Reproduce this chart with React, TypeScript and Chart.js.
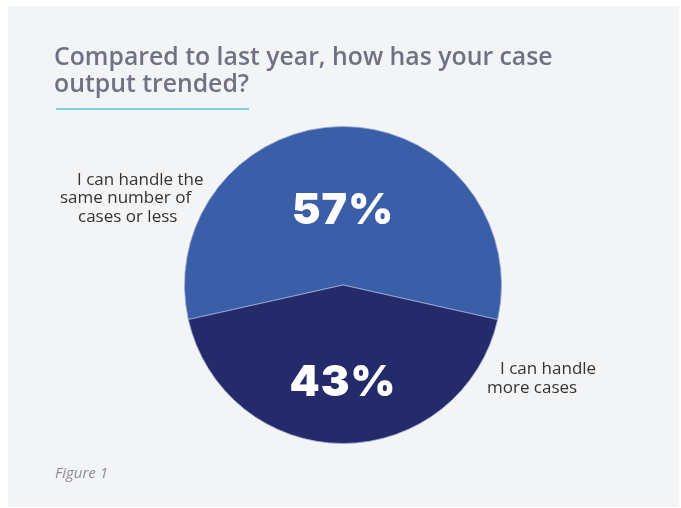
import React, { useEffect, useRef } from "react";
import { Chart, registerables } from "chart.js";

Chart.register(...registerables);

const categories = ["I can handle the same number of cases or less", "I can handle more cases"];
const values = [57, 43];
const percentLabels = ["57%", "43%"];
const sliceColors = ["#3a5ea8", "#252a6b"];
const leftLabelLines = ["I can handle the", "same number of", "cases or less"];
const rightLabelLines = ["I can handle", "more cases"];

export default function App() {
  const ref = useRef<HTMLCanvasElement | null>(null);

  useEffect(() => {
    if (!ref.current) return;
    const total = values.reduce((a, b) => a + b, 0);
    const firstDeg = (values[0] / total) * 360;
    const chart = new Chart(ref.current, {
      type: "pie",
      data: {
        labels: categories,
        datasets: [
          {
            data: values,
            backgroundColor: sliceColors,
            borderColor: "rgba(160,175,215,0.8)",
            borderWidth: 1,
          },
        ],
      },
      options: {
        animation: false,
        responsive: false,
        rotation: -firstDeg / 2,
        layout: { padding: { top: 126, bottom: 64, left: 184, right: 179 } },
        plugins: { legend: { display: false }, tooltip: { enabled: false } },
      },
    });
    return () => chart.destroy();
  }, []);

  const lineStyle: React.CSSProperties = {
    position: "absolute",
    fontFamily: "'Open Sans', sans-serif",
    fontSize: 17,
    lineHeight: "20px",
    color: "#333333",
    whiteSpace: "nowrap",
  };
  const pctStyle: React.CSSProperties = {
    position: "absolute",
    fontFamily: "Inter, sans-serif",
    fontWeight: 900,
    fontSize: 43,
    color: "#ffffff",
    width: 200,
    textAlign: "center",
    lineHeight: "1",
    letterSpacing: 1,
  };

  const leftX = [77, 60, 78];
  const leftTop = [169, 187, 206];
  const rightX = [500, 487];
  const rightTop = [358, 377];

  return (
    <div style={{ position: "absolute", left: 0, top: 0, width: 681, height: 508, background: "#ffffff" }}>
      <div style={{ position: "absolute", left: 8, top: 6, width: 671, height: 501, background: "#f3f4f6" }} />
      <canvas ref={ref} width={681} height={508} style={{ position: "absolute", left: 0, top: 0 }} />
      <div
        style={{
          position: "absolute",
          left: 54,
          top: 42,
          fontFamily: "'Open Sans', sans-serif",
          fontWeight: 600,
          fontSize: 24.8,
          lineHeight: "27px",
          color: "#717183",
          whiteSpace: "nowrap",
        }}
      >
        Compared to last year, how has your case
        <br />
        output trended?
      </div>
      <div style={{ position: "absolute", left: 56, top: 108, width: 193, height: 2, background: "#7fcdea" }} />
      {leftLabelLines.map((t, i) => (
        <div key={"l" + i} style={{ ...lineStyle, left: leftX[i], top: leftTop[i] }}>
          {t}
        </div>
      ))}
      {rightLabelLines.map((t, i) => (
        <div key={"r" + i} style={{ ...lineStyle, left: rightX[i], top: rightTop[i] }}>
          {t}
        </div>
      ))}
      <div style={{ ...pctStyle, left: 243, top: 187 }}>{percentLabels[0]}</div>
      <div style={{ ...pctStyle, left: 243, top: 359 }}>{percentLabels[1]}</div>
      <div
        style={{
          position: "absolute",
          left: 55,
          top: 462,
          fontFamily: "'Open Sans', sans-serif",
          fontStyle: "italic",
          fontSize: 15,
          color: "#8a8a95",
        }}
      >
        Figure 1
      </div>
    </div>
  );
}
